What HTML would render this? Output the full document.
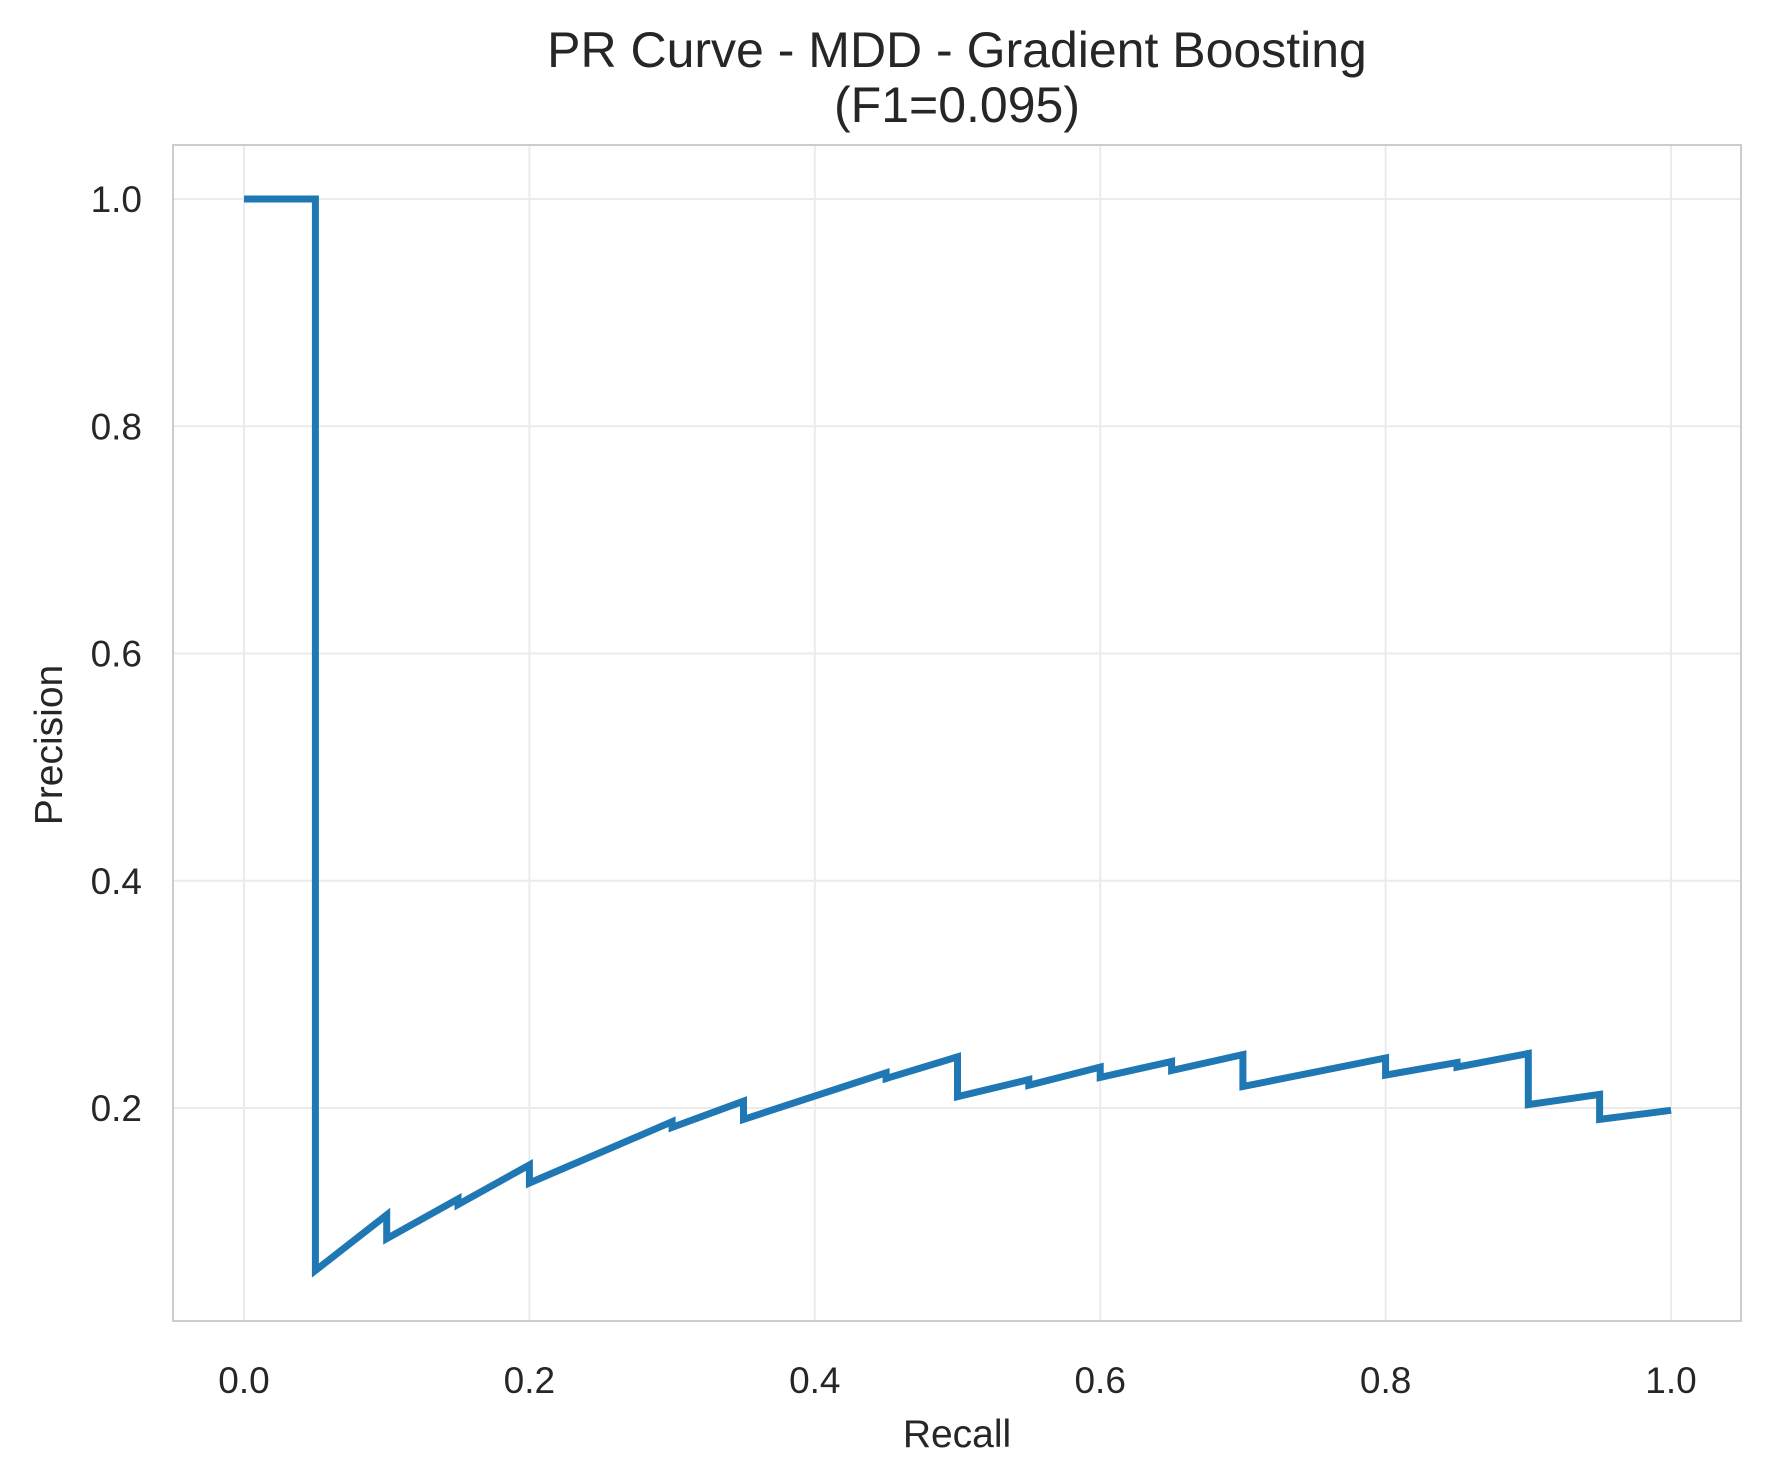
<!DOCTYPE html>
<html><head><meta charset="utf-8"><style>
html,body{margin:0;padding:0;background:#fff;}
svg{display:block;font-family:"Liberation Sans","DejaVu Sans",sans-serif;}
</style></head><body>
<svg id="chart" width="1771" height="1476">
<rect x="0" y="0" width="1771" height="1476" fill="#fff"/>
<g id="grid"></g>
<g id="ticks"></g>
<path id="line" fill="none" stroke="#1f77b4" stroke-width="7" stroke-linejoin="miter"/>
<rect x="173" y="145" width="1568" height="1176" fill="none" stroke="#cccccc" stroke-width="2"/>
<text x="957" y="67" text-anchor="middle" font-size="50" fill="#262626">PR Curve - MDD - Gradient Boosting</text>
<text x="957" y="122" text-anchor="middle" font-size="50" fill="#262626">(F1=0.095)</text>
<text x="957" y="1447" text-anchor="middle" font-size="39" fill="#262626">Recall</text>
<text transform="translate(62,745) rotate(-90)" text-anchor="middle" font-size="39" fill="#262626">Precision</text>
</svg>
<script>
const recall=[0,0.05,0.05,0.1,0.1,0.15,0.15,0.2,0.2,0.3,0.3,0.35,0.35,0.45,0.45,0.5,0.5,0.55,0.55,0.6,0.6,0.65,0.65,0.7,0.7,0.8,0.8,0.85,0.85,0.9,0.9,0.95,0.95,1.0];
const precision=[1,1,0.057,0.106,0.085,0.12,0.115,0.15,0.134,0.188,0.183,0.206,0.19,0.231,0.226,0.245,0.21,0.225,0.22,0.236,0.227,0.241,0.233,0.247,0.219,0.244,0.229,0.24,0.236,0.248,0.203,0.212,0.19,0.198];
const xTicks=[0,0.2,0.4,0.6,0.8,1.0];
const yTicks=[0.2,0.4,0.6,0.8,1.0];
const xTickLabels=["0.0","0.2","0.4","0.6","0.8","1.0"];
const yTickLabels=["0.2","0.4","0.6","0.8","1.0"];
const NS="http://www.w3.org/2000/svg";
function X(v){return 244+v*(1671-244);}
function Y(v){return 1335.3-v*(1335.3-199)/1.0;}
const grid=document.getElementById('grid'),ticks=document.getElementById('ticks');
xTicks.forEach((t,i)=>{
 const l=document.createElementNS(NS,'line');
 l.setAttribute('x1',X(t));l.setAttribute('x2',X(t));l.setAttribute('y1',145);l.setAttribute('y2',1321);
 l.setAttribute('stroke','#ebebeb');l.setAttribute('stroke-width','2');
 
 
 grid.appendChild(l);
 const tx=document.createElementNS(NS,'text');
 tx.setAttribute('x',X(t));tx.setAttribute('y',1393);tx.setAttribute('text-anchor','middle');
 tx.setAttribute('font-size','37');tx.setAttribute('fill','#262626');tx.textContent=xTickLabels[i];
 
 
 ticks.appendChild(tx);
});
yTicks.forEach((t,i)=>{
 const l=document.createElementNS(NS,'line');
 l.setAttribute('x1',173);l.setAttribute('x2',1741);l.setAttribute('y1',Y(t));l.setAttribute('y2',Y(t));
 l.setAttribute('stroke','#ebebeb');l.setAttribute('stroke-width','2');
 
 
 grid.appendChild(l);
 const tx=document.createElementNS(NS,'text');
 tx.setAttribute('x',142);tx.setAttribute('y',Y(t)+13);tx.setAttribute('text-anchor','end');
 tx.setAttribute('font-size','37');tx.setAttribute('fill','#262626');tx.textContent=yTickLabels[i];
 
 
 ticks.appendChild(tx);
});
document.getElementById('line').setAttribute('d',recall.map((r,i)=>(i?'L':'M')+X(r).toFixed(1)+','+Y(precision[i]).toFixed(1)).join(' '));
</script>
</body></html>
